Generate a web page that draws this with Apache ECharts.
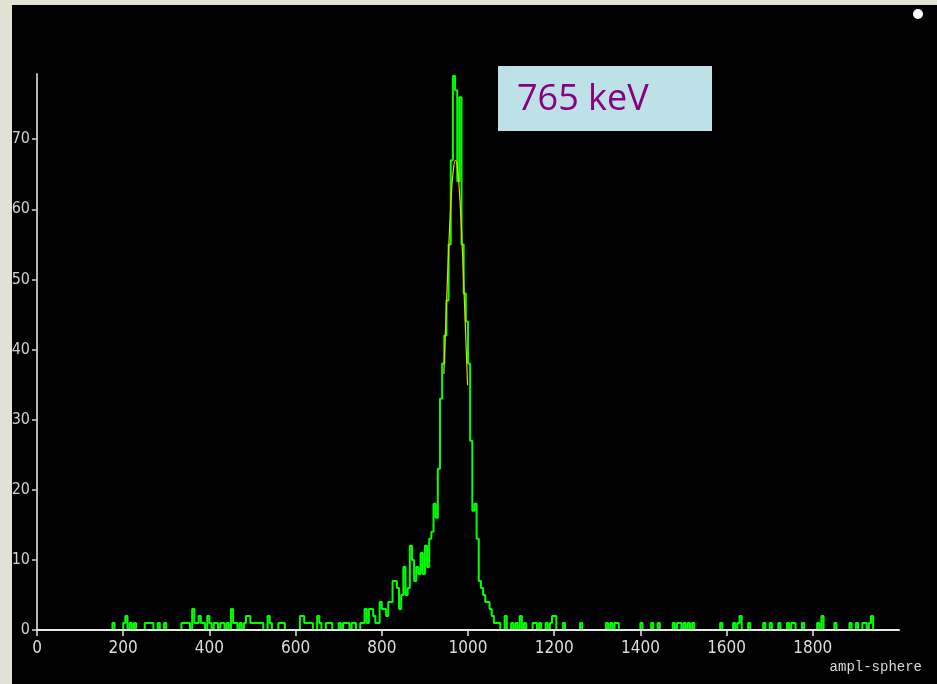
<!DOCTYPE html>
<html>
<head>
<meta charset="utf-8">
<script src="https://cdn.jsdelivr.net/npm/echarts@6/dist/echarts.min.js"></script>
<style>
html, body { margin: 0; padding: 0; background: #e3e1d4; }
#main { position: absolute; left: 12px; top: 5px; width: 925px; height: 679px; background: #000; }
</style>
</head>
<body>
<div id="main"></div>
<script>
// histogram: 5-unit bins over 0..2000
const binWidth = 5;
const xMax = 2000;

// sparse low-energy tail [binStart, count]
const lowTail = [
	[175,1],[200,1],[205,2],[215,1],[225,1],[250,1],[255,1],[260,1],[265,1],[280,1],[295,1],
	[335,1],[340,1],[345,1],[350,1],[360,3],[365,1],[370,1],[375,2],[380,1],[385,1],[395,2],[400,1],
	[410,1],[415,1],[425,1],[430,1],[440,1],[450,3],[455,1],[460,1],[470,1],[480,1],[485,2],[490,2],
	[495,1],[500,1],[505,1],[510,1],[515,1],[520,1],[535,2],[540,1],[560,1],[565,1],[570,1],
	[610,2],[615,2],[620,1],[625,1],[630,1],[635,1],[650,2],[655,1],[670,1],[675,1],[680,1],
	[700,1],[710,1],[715,1],[720,1],[730,1],[735,1]
];

// contiguous peak region, first bin starts at peakStart
const peakStart = 745;
const peakCounts = [
	0, 1, 1, 3, 1, 3, 3, 2, 1, 1,          // 745..790
	4, 3, 3, 2, 4, 4, 7, 7, 6, 3,          // 795..840
	5, 9, 5, 6, 12, 10, 7, 9, 8, 11,       // 845..890
	8, 12, 9, 13, 14, 18, 16, 23, 33, 38,  // 895..940
	42, 47, 55, 67, 79, 77, 64, 76, 55, 48,// 945..990
	44, 38, 27, 17, 18, 13, 7, 6, 5, 4,    // 995..1040
	4, 3, 2, 1, 1, 1, 0                    // 1045..1075
];

// sparse high-energy tail
const highTail = [
	[1085,2],[1100,1],[1110,1],[1120,2],[1130,1],[1150,1],[1155,1],[1165,1],[1180,1],[1190,1],
	[1195,2],[1200,2],[1220,1],[1260,1],[1320,1],[1330,1],[1340,1],[1345,1],[1400,1],[1425,1],
	[1440,1],[1475,1],[1485,1],[1490,1],[1500,1],[1510,1],[1520,1],[1585,1],[1615,1],[1625,1],
	[1630,2],[1650,1],[1685,1],[1700,1],[1720,1],[1740,1],[1750,1],[1755,1],[1775,1],[1810,1],
	[1820,2],[1850,1],[1885,1],[1900,1],[1915,1],[1920,1],[1930,1],[1935,2]
];

// gaussian fit curve
const fitX = [944, 950, 955, 960, 965, 971, 975, 980, 985, 990, 995, 999];
const fitY = [36.5, 46.4, 54.1, 60.6, 65.0, 67.0, 66.1, 62.6, 56.9, 49.6, 41.5, 34.9];

const xTicks = [0, 200, 400, 600, 800, 1000, 1200, 1400, 1600, 1800];
const yTicks = [0, 10, 20, 30, 40, 50, 60, 70];

// build the full bin table
let counts = {};
lowTail.concat(highTail).forEach(function (p) { counts[p[0]] = p[1]; });
peakCounts.forEach(function (c, i) { counts[peakStart + i * binWidth] = c; });

let histData = [];
for (let x = 0; x < xMax; x += binWidth) {
	histData.push([x, counts[x] || 0]);
}
histData.push([xMax, 0]);

let fitData = fitX.map(function (x, i) { return [x, fitY[i]]; });

let myChart = echarts.init(document.getElementById('main'));

const labelFont = '"Liberation Sans Narrow", "DejaVu Sans Condensed", "Liberation Sans", sans-serif';

let option = {
	backgroundColor: '#000',
	animation: false,
	grid: {
		left: 25, right: 38, top: 69, bottom: 54,
		containLabel: false,
		outerBoundsMode: 'none'
	},
	xAxis: {
		type: 'value',
		z: 6,
		min: 0, max: xMax, interval: 200,
		axisLine: { lineStyle: { color: '#e8e8e8', width: 2 } },
		axisTick: { show: true, length: 6, customValues: xTicks, lineStyle: { color: '#e8e8e8', width: 1.5 } },
		axisLabel: {
			customValues: xTicks, color: '#dcdcdc', fontSize: 17, fontFamily: labelFont, margin: 10,
			formatter: function (v) { return String(v); }
		},
		splitLine: { show: false }
	},
	yAxis: {
		type: 'value',
		z: 6,
		min: 0, max: 79.3, interval: 10,
		axisLine: { show: true, lineStyle: { color: '#b4b4b4', width: 2 } },
		axisTick: { show: true, length: 5, customValues: yTicks, lineStyle: { color: '#d0d0d0', width: 1.5 } },
		axisLabel: {
			customValues: yTicks, color: '#d0d0d0', fontSize: 16, fontFamily: labelFont, margin: 7,
			formatter: function (v) { return String(v); }
		},
		splitLine: { show: false }
	},
	series: [
		{
			type: 'line',
			step: 'end',
			data: histData,
			showSymbol: false,
			lineStyle: { color: '#00ff00', width: 2 },
			z: 3
		},
		{
			type: 'line',
			smooth: true,
			data: fitData,
			showSymbol: false,
			lineStyle: { color: '#f2d000', width: 1.2 },
			z: 4
		}
	],
	graphic: [
		{
			type: 'rect',
			shape: { x: 486, y: 61, width: 214, height: 65 },
			style: { fill: '#bde1e6' }
		},
		{
			type: 'text',
			x: 505, y: 95,
			style: {
				text: '765 keV',
				fill: '#86007f',
				font: '36px "Open Sans", "Noto Sans", sans-serif',
				verticalAlign: 'middle'
			}
		},
		{
			type: 'text',
			x: 910, y: 662,
			style: {
				text: 'ampl-sphere',
				fill: '#d8d8d8',
				font: '14px "Liberation Mono", "DejaVu Sans Mono", monospace',
				align: 'right',
				verticalAlign: 'middle'
			}
		},
		{
			type: 'circle',
			shape: { cx: 906, cy: 9, r: 5 },
			style: { fill: '#ffffff' }
		}
	]
};

myChart.setOption(option);
</script>
</body>
</html>
